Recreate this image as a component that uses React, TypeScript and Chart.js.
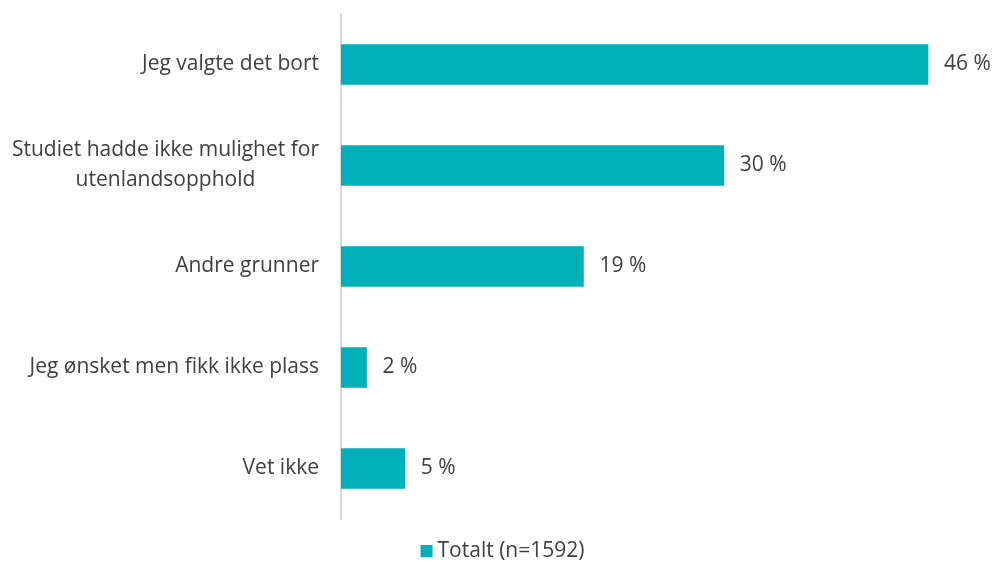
import React, { useEffect, useRef } from "react";
import { Chart, registerables } from "chart.js";

Chart.register(...registerables);

const categories: string[][] = [
  ["Jeg valgte det bort"],
  ["Studiet hadde ikke mulighet for", "utenlandsopphold"],
  ["Andre grunner"],
  ["Jeg ønsket men fikk ikke plass"],
  ["Vet ikke"],
];
const values: number[] = [46, 30, 19, 2, 5];
const seriesName = "Totalt (n=1592)";
const barColor = "#00B0B9";
const textColor = "#404040";
const fontFamily = "'Open Sans', sans-serif";
const fontSize = 21;

const labelPlugin = {
  id: "customLabels",
  afterDatasetsDraw(chart: any) {
    const ctx = chart.ctx;
    const yScale = chart.scales.y;
    const meta = chart.getDatasetMeta(0);
    ctx.save();
    ctx.font = `${fontSize}px ${fontFamily}`;
    ctx.fillStyle = textColor;
    ctx.textAlign = "left";
    ctx.textBaseline = "middle";
    meta.data.forEach((bar: any, i: number) => {
      ctx.fillText(`${values[i]} %`, bar.x + 16, bar.y);
    });
    const rightEdge = chart.chartArea.left - 22;
    const lineH = 30;
    categories.forEach((lines, i) => {
      const yc = yScale.getPixelForValue(i);
      const widths = lines.map((l) => ctx.measureText(l).width);
      const maxW = Math.max(...widths);
      const centerX = rightEdge - maxW / 2;
      ctx.textAlign = "center";
      lines.forEach((l, j) => {
        const y = yc + (j - (lines.length - 1) / 2) * lineH;
        ctx.fillText(l, centerX, y);
      });
    });
    // legend
    const ds = chart.data.datasets[0];
    const tw = ctx.measureText(ds.label).width;
    const box = 12;
    const gap = 5;
    const total = box + gap + tw;
    const lx = 502.5 - total / 2;
    const ly = 551;
    ctx.fillStyle = ds.backgroundColor;
    ctx.fillRect(lx, ly - box / 2, box, box);
    ctx.fillStyle = textColor;
    ctx.textAlign = "left";
    ctx.fillText(ds.label, lx + box + gap, ly);
    ctx.restore();
  },
};

export default function App() {
  const ref = useRef<HTMLCanvasElement>(null);
  useEffect(() => {
    document.body.style.margin = "0";
    const chart = new Chart(ref.current!, {
      type: "bar",
      data: {
        labels: categories.map((c) => c.join(" ")),
        datasets: [
          {
            label: seriesName,
            data: values,
            backgroundColor: barColor,
            barThickness: 40,
          },
        ],
      },
      options: {
        indexAxis: "y",
        animation: false,
        responsive: false,
        layout: { padding: { top: 14, right: 14, bottom: 44, left: 0 } },
        scales: {
          x: { display: false, min: 0, max: 50 },
          y: {
            grid: { display: false, drawTicks: false },
            border: { display: true, color: "#d9d9d9", width: 2 },
            ticks: { display: false },
            afterFit(scale: any) {
              scale.width = 341;
            },
          },
        },
        plugins: {
          tooltip: { enabled: false },
          legend: { display: false },
        },
      },
      plugins: [labelPlugin],
    });
    return () => chart.destroy();
  }, []);
  return (
    <div style={{ width: 993, height: 563 }}>
      <canvas ref={ref} width={993} height={563} />
    </div>
  );
}
